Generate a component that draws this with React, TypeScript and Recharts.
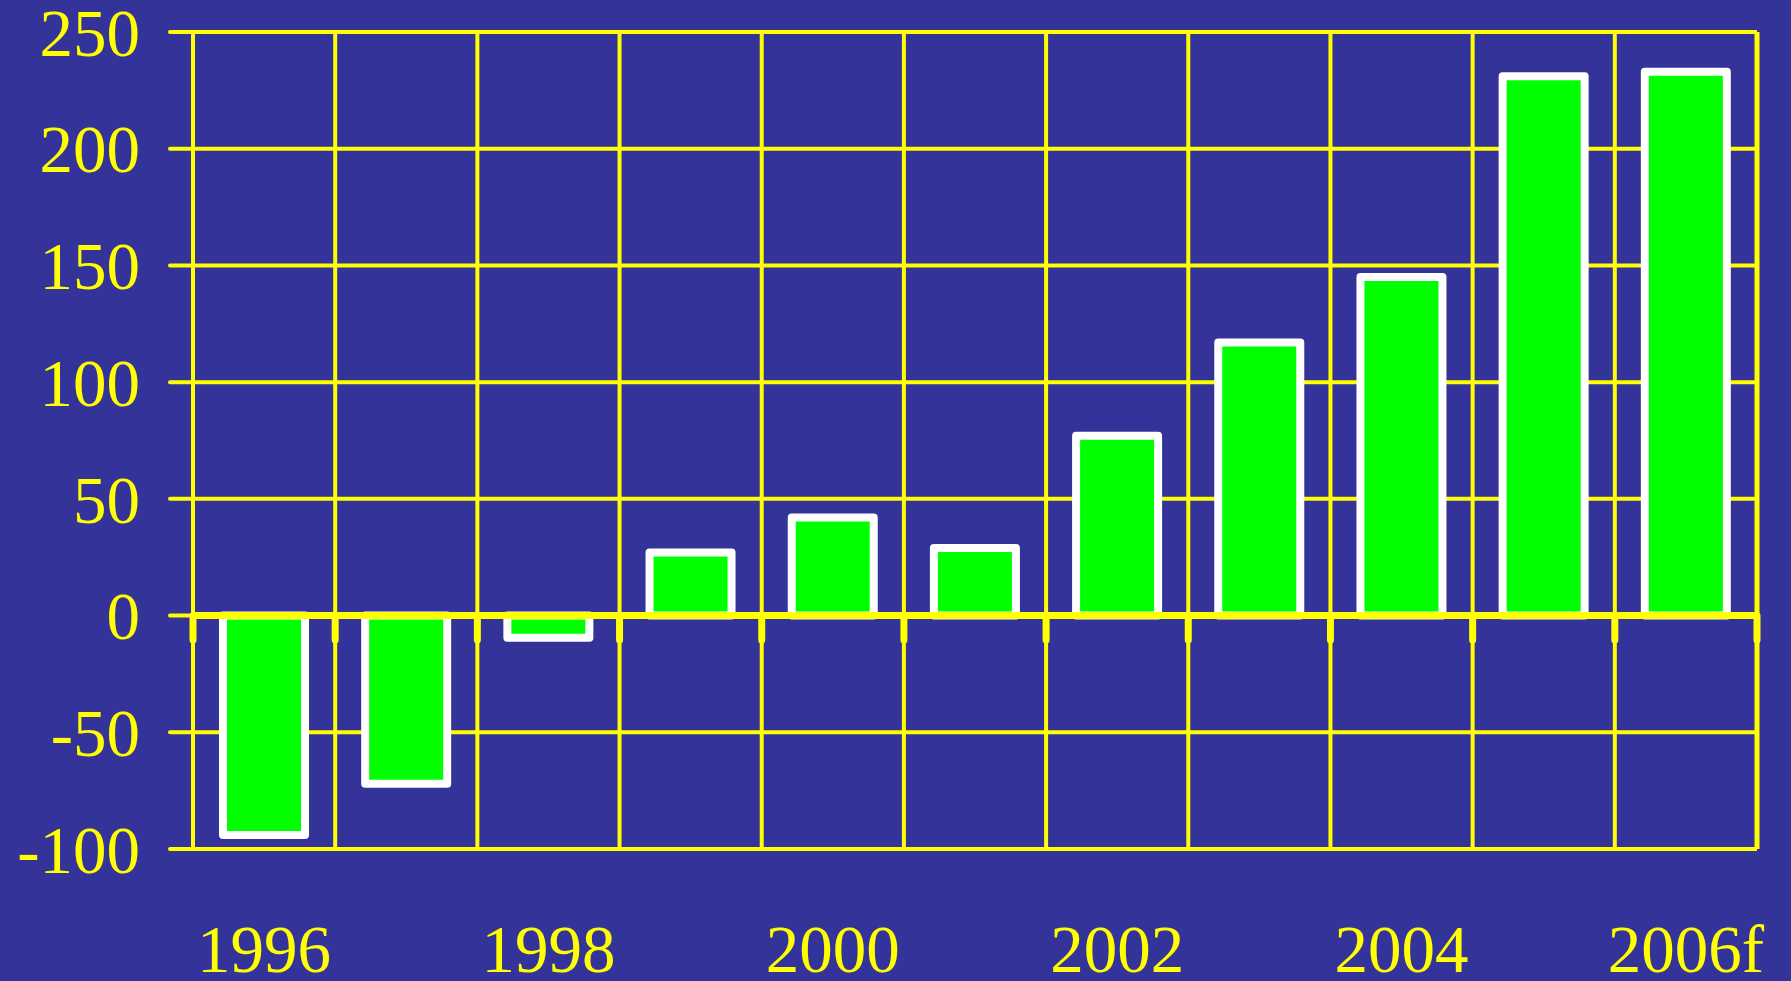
import React from 'react';
import { BarChart, Bar, XAxis, YAxis, CartesianGrid, ReferenceLine } from 'recharts';

const categories = ['1996', '1997', '1998', '1999', '2000', '2001', '2002', '2003', '2004', '2005', '2006f'];
const values = [-94, -72, -9.5, 27, 42, 29, 77, 117, 145, 231, 233];
const yTicks = [-100, -50, 0, 50, 100, 150, 200, 250];
const labelStep = 2;

const YELLOW = '#FFFF00';
const BG = '#333399';
const FONT = '"Liberation Serif", "Times New Roman", serif';

const data = categories.map((name, i) => ({ pos: i + 0.5, name, value: values[i] }));
const boundaryTicks = [...categories.map((_, i) => i), categories.length];
const labelTicks = data.filter((_, i) => i % labelStep === 0).map((d) => d.pos);

export default function App() {
  return (
    <div style={{ position: 'absolute', left: 0, top: 0, width: 1791, height: 981, background: BG }}>
      <BarChart width={1791} height={981} data={data} margin={{ top: 32, right: 34, left: 0, bottom: 0 }}>
        <CartesianGrid xAxisId="g" stroke={YELLOW} strokeWidth={4} vertical={false} />
        <XAxis
          xAxisId="g"
          dataKey="pos"
          type="number"
          domain={[0, categories.length]}
          ticks={boundaryTicks}
          height={0}
          tick={false}
          axisLine={false}
          tickLine={false}
          allowDataOverflow
        />
        <XAxis
          xAxisId="l"
          dataKey="pos"
          type="number"
          domain={[0, categories.length]}
          ticks={labelTicks}
          interval={0}
          tickFormatter={(v: number) => categories[Math.floor(v)]}
          height={132}
          axisLine={false}
          tickLine={false}
          tickSize={0}
          tickMargin={75}
          tick={{ fill: YELLOW, fontSize: 67, fontFamily: FONT }}
          allowDataOverflow
        />
        <YAxis
          type="number"
          domain={[-100, 250]}
          ticks={yTicks}
          interval={0}
          width={193}
          axisLine={false}
          tickLine={{ stroke: YELLOW, strokeWidth: 4, strokeLinecap: 'round' }}
          tickSize={23}
          tickMargin={30}
          tick={{ fill: YELLOW, fontSize: 67, fontFamily: FONT }}
          allowDataOverflow
        />
        {boundaryTicks.map((t) => (
          <ReferenceLine
            key={'v' + t}
            xAxisId="g"
            x={t}
            stroke={YELLOW}
            strokeWidth={t === categories.length ? 5 : 4}
          />
        ))}
        <Bar
          xAxisId="l"
          dataKey="value"
          barSize={82}
          fill="#00FF00"
          stroke="#FFFFFF"
          strokeWidth={8}
          strokeLinejoin="round"
          isAnimationActive={false}
        />
        <ReferenceLine xAxisId="g" y={0} stroke={YELLOW} strokeWidth={7} />
        {boundaryTicks.map((t) => (
          <ReferenceLine
            key={'t' + t}
            xAxisId="g"
            segment={[{ x: t, y: 0 }, { x: t, y: -10.5 }]}
            stroke={YELLOW}
            strokeWidth={7}
            strokeLinecap="round"
          />
        ))}
      </BarChart>
    </div>
  );
}
